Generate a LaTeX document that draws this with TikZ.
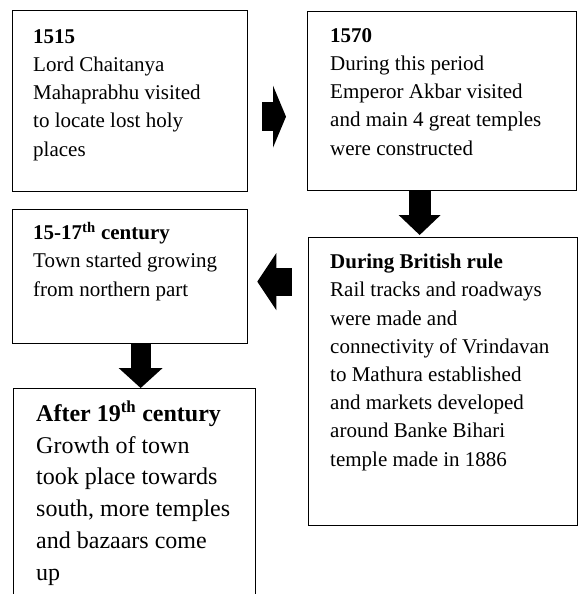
\documentclass[tikz,border=0pt]{standalone}
\usepackage{fontspec}
\setmainfont{Liberation Serif}
\usetikzlibrary{arrows.meta}

\begin{document}
\begin{tikzpicture}[
		x=1pt, y=-1pt,
		every node/.style={inner sep=0pt},
		stage/.style={draw, line width=1.3pt, anchor=north west},
		note/.style={anchor=base west, align=left, font=\fontsize{21}{28.2}\selectfont},
		bignote/.style={note, font=\fontsize{24}{31.7}\selectfont},
		flow/.style={line width=#1}
		]
		\useasboundingbox (0,0) rectangle (580,594);
		\clip (0,0) rectangle (580,594);
		\node[stage, minimum width=235pt, minimum height=181pt] (b1) at (12,10) {};
		\node[stage, minimum width=269pt, minimum height=179pt] (b2) at (307,11) {};
		\node[stage, minimum width=235pt, minimum height=134pt] (b3) at (12,209) {};
		\node[stage, minimum width=269pt, minimum height=288pt] (b4) at (308,237) {};
		\node[stage, minimum width=242pt, minimum height=220pt] (b5) at (13,388) {};
		\node[note] (t1) at (33,156) {\textbf{1515}\\Lord Chaitanya\\Mahaprabhu visited\\to locate lost holy\\places};
		\node[note] (t2) at (330,155) {\textbf{1570}\\During this period\\Emperor Akbar visited\\and main 4 great temples\\were constructed};
		\node[note] (t3) at (33,296) {\textbf{15-17\textsuperscript{th} century}\\Town started growing\\from northern part};
		\node[note] (t4) at (330,466) {\textbf{During British rule}\\Rail tracks and roadways\\were made and\\connectivity of Vrindavan\\to Mathura established\\and markets developed\\around Banke Bihari\\temple made in 1886};
		\node[bignote] (t5) at (36,580) {\textbf{After 19\textsuperscript{th} century}\\Growth of town\\took place towards\\south, more temples\\and bazaars come\\up};
		\coordinate (a1) at ([yshift=-15.5pt]b1.east);
		\coordinate (a2) at ([xshift=-22.5pt]b2.south);
		\coordinate (a3) at ([yshift=-5pt]b3.east);
		\coordinate (a4) at ([xshift=10.5pt]b3.south);
		\draw[flow=29pt, -{Triangle[length=13pt,width=62pt,line width=0pt]}, shorten <=14pt, shorten >=21pt] (a1) -- (b2.west |- a1);
		\draw[flow=22pt, -{Triangle[length=20pt,width=42pt,line width=0pt]}, shorten >=2pt] (a2) -- (b4.north -| a2);
		\draw[flow=28pt, -{Triangle[length=19pt,width=57pt,line width=0pt]}, shorten <=16pt, shorten >=9pt] (b4.west |- a3) -- (a3);
		\draw[flow=20pt, -{Triangle[length=20pt,width=44pt,line width=0pt]}] (a4) -- (b5.north -| a4);
\end{tikzpicture}
\end{document}
